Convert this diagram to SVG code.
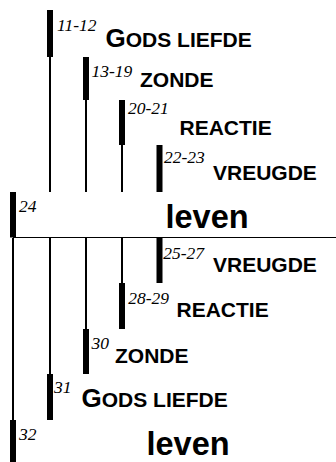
<svg xmlns="http://www.w3.org/2000/svg" width="336" height="462" viewBox="0 0 336 462">
  <style>
    .bar { fill: #000; }
    .line { stroke: #000; stroke-width: 2; fill: none; }
    .hline { stroke: #000; stroke-width: 1.2; fill: none; }
    .num { font-family: "Liberation Serif", "Times New Roman", serif; font-style: italic; font-size: 17.5px; fill: #000; }
    .lbl { font-family: "Liberation Sans", Arial, sans-serif; font-weight: bold; font-size: 21px; fill: #000; }
    .big { font-size: 26px; }
    .leven { font-family: "Liberation Sans", Arial, sans-serif; font-weight: bold; font-size: 32.5px; fill: #000; }
  </style>
  <rect width="336" height="462" fill="#fff"/>
  <g id="connectors">
    <line class="line" x1="50" y1="57" x2="50" y2="192"/>
    <line class="line" x1="86" y1="100" x2="86" y2="192"/>
    <line class="line" x1="122" y1="145" x2="122" y2="192"/>
    <line class="hline" x1="13" y1="237.5" x2="336" y2="237.5"/>
    <line class="line" x1="13" y1="238" x2="13" y2="420"/>
    <line class="line" x1="50" y1="238" x2="50" y2="374"/>
    <line class="line" x1="86" y1="238" x2="86" y2="329"/>
    <line class="line" x1="122" y1="238" x2="122" y2="283"/>
  </g>
  <g id="n-11-12">
    <rect class="bar" x="47" y="10" width="6" height="47"/>
    <text class="num" x="57" y="31">11-12</text>
    <text class="lbl" x="105.5" y="46.7"><tspan class="big">G</tspan>ODS LIEFDE</text>
  </g>
  <g id="n-13-19">
    <rect class="bar" x="83" y="57" width="6" height="43"/>
    <text class="num" x="91.5" y="76.7">13-19</text>
    <text class="lbl" x="140" y="87.3">ZONDE</text>
  </g>
  <g id="n-20-21">
    <rect class="bar" x="119" y="100" width="6" height="45"/>
    <text class="num" x="128" y="114.3">20-21</text>
    <text class="lbl" x="179.5" y="135">REACTIE</text>
  </g>
  <g id="n-22-23">
    <rect class="bar" x="156.5" y="145" width="6" height="47"/>
    <text class="num" x="164" y="162.7">22-23</text>
    <text class="lbl" x="213" y="180">VREUGDE</text>
  </g>
  <g id="n-24">
    <rect class="bar" x="10" y="192" width="6" height="45.5"/>
    <text class="num" x="19" y="212.3">24</text>
    <text class="leven" x="165.5" y="228.3">leven</text>
  </g>
  <g id="n-25-27">
    <rect class="bar" x="156.5" y="238" width="6" height="45"/>
    <text class="num" x="163.3" y="259">25-27</text>
    <text class="lbl" x="213" y="272.3">VREUGDE</text>
  </g>
  <g id="n-28-29">
    <rect class="bar" x="119" y="283" width="6" height="46"/>
    <text class="num" x="128.3" y="304.3">28-29</text>
    <text class="lbl" x="176.5" y="317.3">REACTIE</text>
  </g>
  <g id="n-30">
    <rect class="bar" x="83" y="329" width="6" height="45"/>
    <text class="num" x="91.5" y="349">30</text>
    <text class="lbl" x="115" y="363.3">ZONDE</text>
  </g>
  <g id="n-31">
    <rect class="bar" x="47" y="374" width="6" height="46"/>
    <text class="num" x="54" y="393">31</text>
    <text class="lbl" x="81.5" y="407.3"><tspan class="big">G</tspan>ODS LIEFDE</text>
  </g>
  <g id="n-32">
    <rect class="bar" x="10" y="420" width="6" height="42"/>
    <text class="num" x="19" y="440">32</text>
    <text class="leven" x="146.5" y="455">leven</text>
  </g>
</svg>
